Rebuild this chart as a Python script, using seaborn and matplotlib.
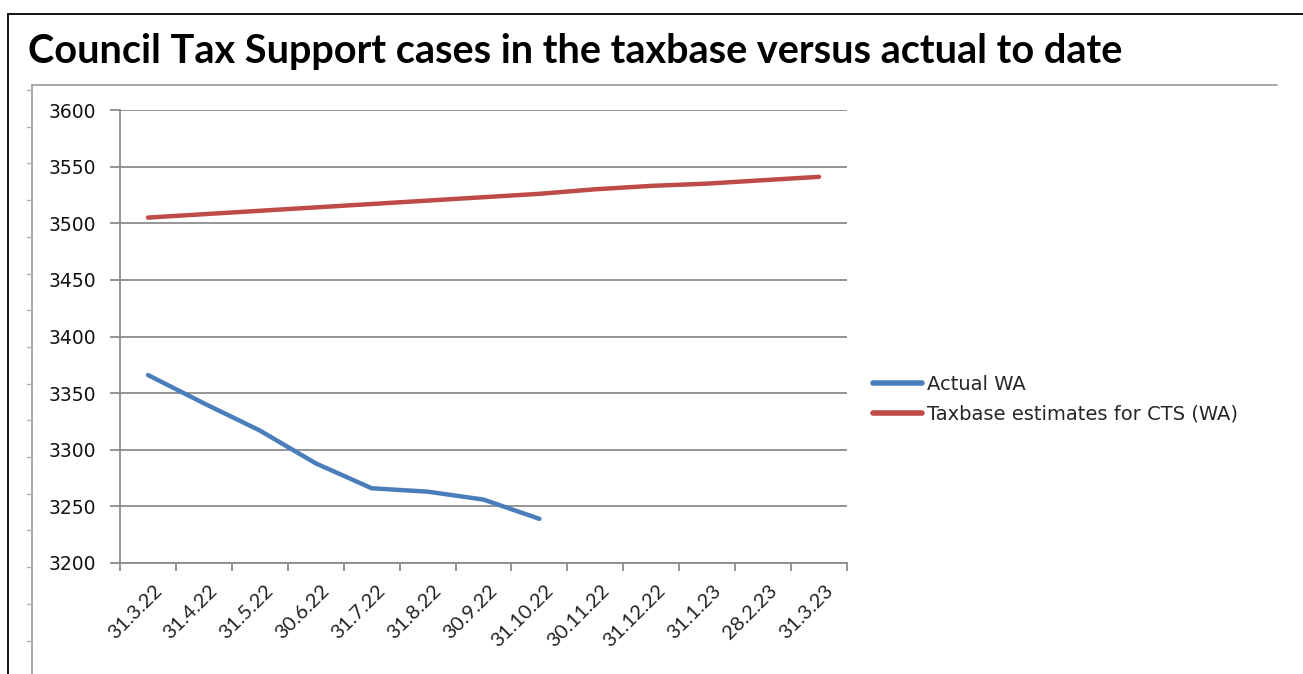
import matplotlib
matplotlib.use("Agg")
import matplotlib.pyplot as plt
from matplotlib.lines import Line2D
from matplotlib.transforms import ScaledTranslation
import numpy as np
import pandas as pd
import seaborn as sns

# ---- data ----
dates = ["31.3.22", "31.4.22", "31.5.22", "30.6.22", "31.7.22", "31.8.22", "30.9.22",
         "31.10.22", "30.11.22", "31.12.22", "31.1.23", "28.2.23", "31.3.23"]
actual_wa = [3366, 3341, 3317, 3288, 3266, 3263, 3256, 3239]
taxbase_est = [3505, 3508, 3511, 3514, 3517, 3520, 3523, 3526, 3530, 3533, 3535, 3538, 3541]
series_names = ["Actual WA", "Taxbase estimates for CTS (WA)"]
y_ticks = [3200, 3250, 3300, 3350, 3400, 3450, 3500, 3550, 3600]
title = "Council Tax Support cases in the taxbase versus actual to date"
colors = ["#4A7EBB", "#BE4B48"]

df = pd.concat([
    pd.DataFrame({"date": dates[:len(actual_wa)], "value": actual_wa, "series": series_names[0]}),
    pd.DataFrame({"date": dates, "value": taxbase_est, "series": series_names[1]}),
], ignore_index=True)
df["pos"] = df["date"].map({d: i for i, d in enumerate(dates)})

sns.set_theme(style="white")
W, H = 1303, 674
fig = plt.figure(figsize=(W / 100, H / 100), dpi=100)
fig.patch.set_facecolor("white")

ax = fig.add_axes([120 / W, 1 - 563 / H, (847 - 120) / W, (563 - 110) / H])
sns.lineplot(data=df, x="pos", y="value", hue="series", hue_order=series_names,
             palette=colors, linewidth=3.2, ax=ax, legend=False, sort=False,
             solid_capstyle="round")

grid_c = "#8C8C8C"
ax.set_xlim(-0.5, len(dates) - 0.5)
ax.set_ylim(3200, 3600)
ax.set_yticks(y_ticks)
ax.set_yticklabels([str(v) for v in y_ticks], fontsize=13.5, family="DejaVu Sans", color="#111111")
ax.yaxis.grid(True, color=grid_c, linewidth=1.3)
ax.xaxis.grid(False)
ax.set_axisbelow(True)
for s in ["top", "right"]:
    ax.spines[s].set_visible(False)
for s in ["left", "bottom"]:
    ax.spines[s].set_color(grid_c)
    ax.spines[s].set_linewidth(1.3)
ax.tick_params(axis="y", which="major", length=7, width=1.3, color=grid_c, pad=10, left=True)
ax.set_xticks(np.arange(-0.5, len(dates), 1.0))
ax.set_xticklabels([])
ax.tick_params(axis="x", which="major", length=6, width=1.3, color=grid_c, bottom=True)
ax.set_xticks(np.arange(len(dates)), minor=True)
ax.set_xticklabels(dates, minor=True, rotation=45, ha="right", va="center",
                   rotation_mode="anchor", fontsize=14.5, family="Lato", color="#222222")
ax.tick_params(axis="x", which="minor", length=0, pad=18)
shift = ScaledTranslation(11 / 100, 0, fig.dpi_scale_trans)
for lab in ax.get_xticklabels(minor=True):
    lab.set_transform(lab.get_transform() + shift)
ax.set_xlabel("")
ax.set_ylabel("")

handles = [Line2D([0], [0], color=c, linewidth=4) for c in colors]
fig.legend(handles, series_names, loc="center left", bbox_to_anchor=(873 / W, 1 - 399 / H),
           frameon=False, borderaxespad=0, borderpad=0, handlelength=2.5, handletextpad=0.3,
           labelspacing=0.55, prop={"family": "DejaVu Sans", "size": 14})

# title
fig.text(28 / W, 1 - 52 / H, title, fontsize=28.5, fontweight="bold", family="Lato",
         ha="left", va="center", color="black")

# frames
fig.add_artist(Line2D([8 / W, 1.0], [1 - 14 / H, 1 - 14 / H], color="black", linewidth=1.3))
fig.add_artist(Line2D([8 / W, 8 / W], [1 - 14 / H, 0], color="black", linewidth=1.3))
fig.add_artist(Line2D([32 / W, 1277 / W], [1 - 85 / H, 1 - 85 / H], color="#A0A0A0", linewidth=1.3))
fig.add_artist(Line2D([32 / W, 32 / W], [1 - 85 / H, 0], color="#A0A0A0", linewidth=1.3))
for yy in np.arange(90, 674, 36.7):
    fig.add_artist(Line2D([27 / W, 32 / W], [1 - yy / H, 1 - yy / H], color="#B0B0B0", linewidth=1.0))

fig.savefig("out.png", dpi=100, facecolor="white")
